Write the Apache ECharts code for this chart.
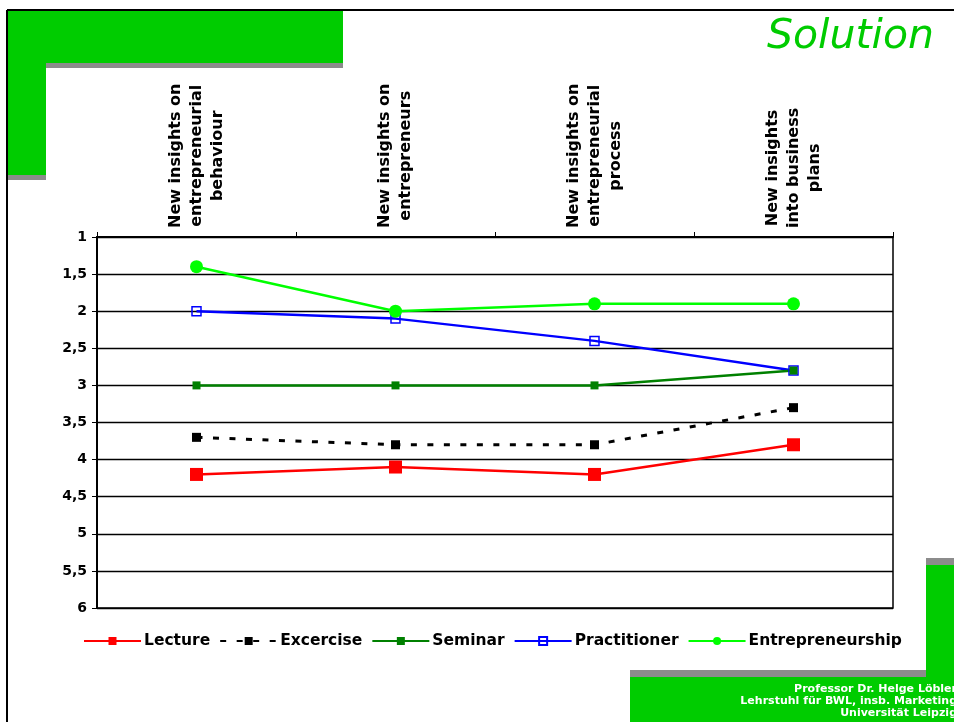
<!DOCTYPE html>
<html>
<head>
<meta charset="utf-8">
<script src="https://cdn.jsdelivr.net/npm/echarts@6/dist/echarts.min.js"></script>
<style>
html,body{margin:0;padding:0;background:#fff;}
#chart{width:954px;height:722px;}
</style>
</head>
<body>
<div id="chart"></div>
<script>
const categories = [
  'New insights on\nentrepreneurial\nbehaviour',
  'New insights on\nentrepreneurs',
  'New insights on\nentrepreneurial\nprocess',
  'New insights\ninto business\nplans'
];
const yTicks = { min: 1, max: 6, step: 0.5 };
const lecture = [4.2, 4.1, 4.2, 3.8];
const excercise = [3.7, 3.8, 3.8, 3.3];
const seminar = [3.0, 3.0, 3.0, 2.8];
const practitioner = [2.0, 2.1, 2.4, 2.8];
const entrepreneurship = [1.4, 2.0, 1.9, 1.9];
const titleText = 'Solution';
const footerLines = ['Professor Dr. Helge Löbler', 'Lehrstuhl für BWL, insb. Marketing', 'Universität Leipzig'];

const FONT = '"DejaVu Sans", Verdana, sans-serif';
const catFontSize = 16;
const ctx = document.createElement('canvas').getContext('2d');
ctx.font = 'bold ' + catFontSize + 'px "DejaVu Sans"';
const widths = categories.map(c => Math.max.apply(null, c.split('\n').map(l => ctx.measureText(l).width)));
const W = Math.max.apply(null, widths);

const chart = echarts.init(document.getElementById('chart'), null, { renderer: 'canvas' });

const green = '#00cc00';
const gray = '#8c8c8c';

const catLabelStyle = {
  fontFamily: FONT, fontWeight: 'bold', fontSize: catFontSize, lineHeight: 21, color: '#000',
  align: 'center', verticalAlign: 'middle'
};

const option = {
  backgroundColor: '#fff',
  animation: false,
  grid: {
    left: 97, right: 61, top: 237, bottom: 114,
    show: true, borderColor: '#000', borderWidth: 1.5, backgroundColor: 'transparent'
  },
  legend: {
    left: 78, top: 628,
    itemWidth: 57, itemHeight: 10, itemGap: 9,
    textStyle: { fontFamily: FONT, fontWeight: 'bold', fontSize: 15.5, color: '#000', padding: [0, 0, 0, -2] },
    data: ['Lecture', 'Excercise', 'Seminar', 'Practitioner', 'Entrepreneurship']
  },
  xAxis: {
    type: 'category',
    position: 'top',
    boundaryGap: true,
    data: categories.map((c, i) => ({
      value: c,
      textStyle: Object.assign({}, catLabelStyle, { padding: [7, W - widths[i], 0, 0] })
    })),
    axisLine: { show: true, lineStyle: { color: '#000', width: 2 } },
    axisTick: { show: true, length: 5, lineStyle: { color: '#000', width: 1 } },
    axisLabel: Object.assign({ interval: 0, rotate: -90, margin: 9 + W / 2 }, catLabelStyle),
    splitLine: { show: false }
  },
  yAxis: {
    type: 'value',
    inverse: true,
    min: yTicks.min, max: yTicks.max, interval: yTicks.step,
    axisLine: { show: true, lineStyle: { color: '#000', width: 2 } },
    axisTick: { show: true, length: 5, lineStyle: { color: '#000', width: 1 } },
    axisLabel: {
      margin: 10, fontFamily: FONT, fontWeight: 'bold', fontSize: 14, color: '#000',
      formatter: v => String(v).replace('.', ',')
    },
    splitLine: { show: true, lineStyle: { color: '#000', width: 1.3 } }
  },
  series: [
    {
      name: 'Lecture', type: 'line', data: lecture,
      symbol: 'rect', symbolSize: 13,
      lineStyle: { color: '#ff0000', width: 2.5 },
      itemStyle: { color: '#ff0000' }
    },
    {
      name: 'Excercise', type: 'line', data: excercise,
      symbol: 'rect', symbolSize: 9,
      lineStyle: { color: '#000', width: 3, type: [6, 10.5] },
      itemStyle: { color: '#000' }
    },
    {
      name: 'Practitioner', type: 'line', data: practitioner,
      symbol: 'rect', symbolSize: 9,
      lineStyle: { color: '#0000ff', width: 2.5 },
      itemStyle: { color: 'rgba(255,255,255,0)', borderColor: '#0000ff', borderWidth: 1.5 }
    },
    {
      name: 'Seminar', type: 'line', data: seminar,
      symbol: 'rect', symbolSize: 8,
      lineStyle: { color: '#008000', width: 2.5 },
      itemStyle: { color: '#008000' }
    },
    {
      name: 'Entrepreneurship', type: 'line', data: entrepreneurship,
      symbol: 'circle', symbolSize: 13,
      lineStyle: { color: '#00ff00', width: 2.5 },
      itemStyle: { color: '#00ff00' }
    }
  ],
  graphic: [
    { type: 'line', shape: { x1: 7, y1: 10, x2: 954, y2: 10 }, style: { stroke: '#000', lineWidth: 2 }, z: 10 },
    { type: 'line', shape: { x1: 7, y1: 10, x2: 7, y2: 722 }, style: { stroke: '#000', lineWidth: 2 }, z: 10 },
    { type: 'rect', shape: { x: 46, y: 63, width: 297, height: 5 }, style: { fill: gray } },
    { type: 'rect', shape: { x: 8, y: 175, width: 38, height: 5 }, style: { fill: gray } },
    { type: 'rect', shape: { x: 8, y: 11, width: 335, height: 52 }, style: { fill: green } },
    { type: 'rect', shape: { x: 8, y: 11, width: 38, height: 164 }, style: { fill: green } },
    { type: 'rect', shape: { x: 926, y: 558, width: 28, height: 7 }, style: { fill: gray } },
    { type: 'rect', shape: { x: 926, y: 565, width: 28, height: 157 }, style: { fill: green } },
    { type: 'rect', shape: { x: 630, y: 670, width: 296, height: 7 }, style: { fill: gray } },
    { type: 'rect', shape: { x: 630, y: 677, width: 324, height: 45 }, style: { fill: green } },
    { type: 'text', x: 934, y: 37, style: {
        text: titleText, fill: green, font: 'italic 41px "DejaVu Sans"',
        textAlign: 'right', textVerticalAlign: 'middle' } },
    { type: 'text', x: 957, y: 689, style: { text: footerLines[0], fill: '#fff', font: 'bold 11px "DejaVu Sans"', textAlign: 'right', textVerticalAlign: 'middle' }, z: 10 },
    { type: 'text', x: 957, y: 701, style: { text: footerLines[1], fill: '#fff', font: 'bold 11px "DejaVu Sans"', textAlign: 'right', textVerticalAlign: 'middle' }, z: 10 },
    { type: 'text', x: 957, y: 713, style: { text: footerLines[2], fill: '#fff', font: 'bold 11px "DejaVu Sans"', textAlign: 'right', textVerticalAlign: 'middle' }, z: 10 }
  ]
};
chart.setOption(option);
</script>
</body>
</html>
